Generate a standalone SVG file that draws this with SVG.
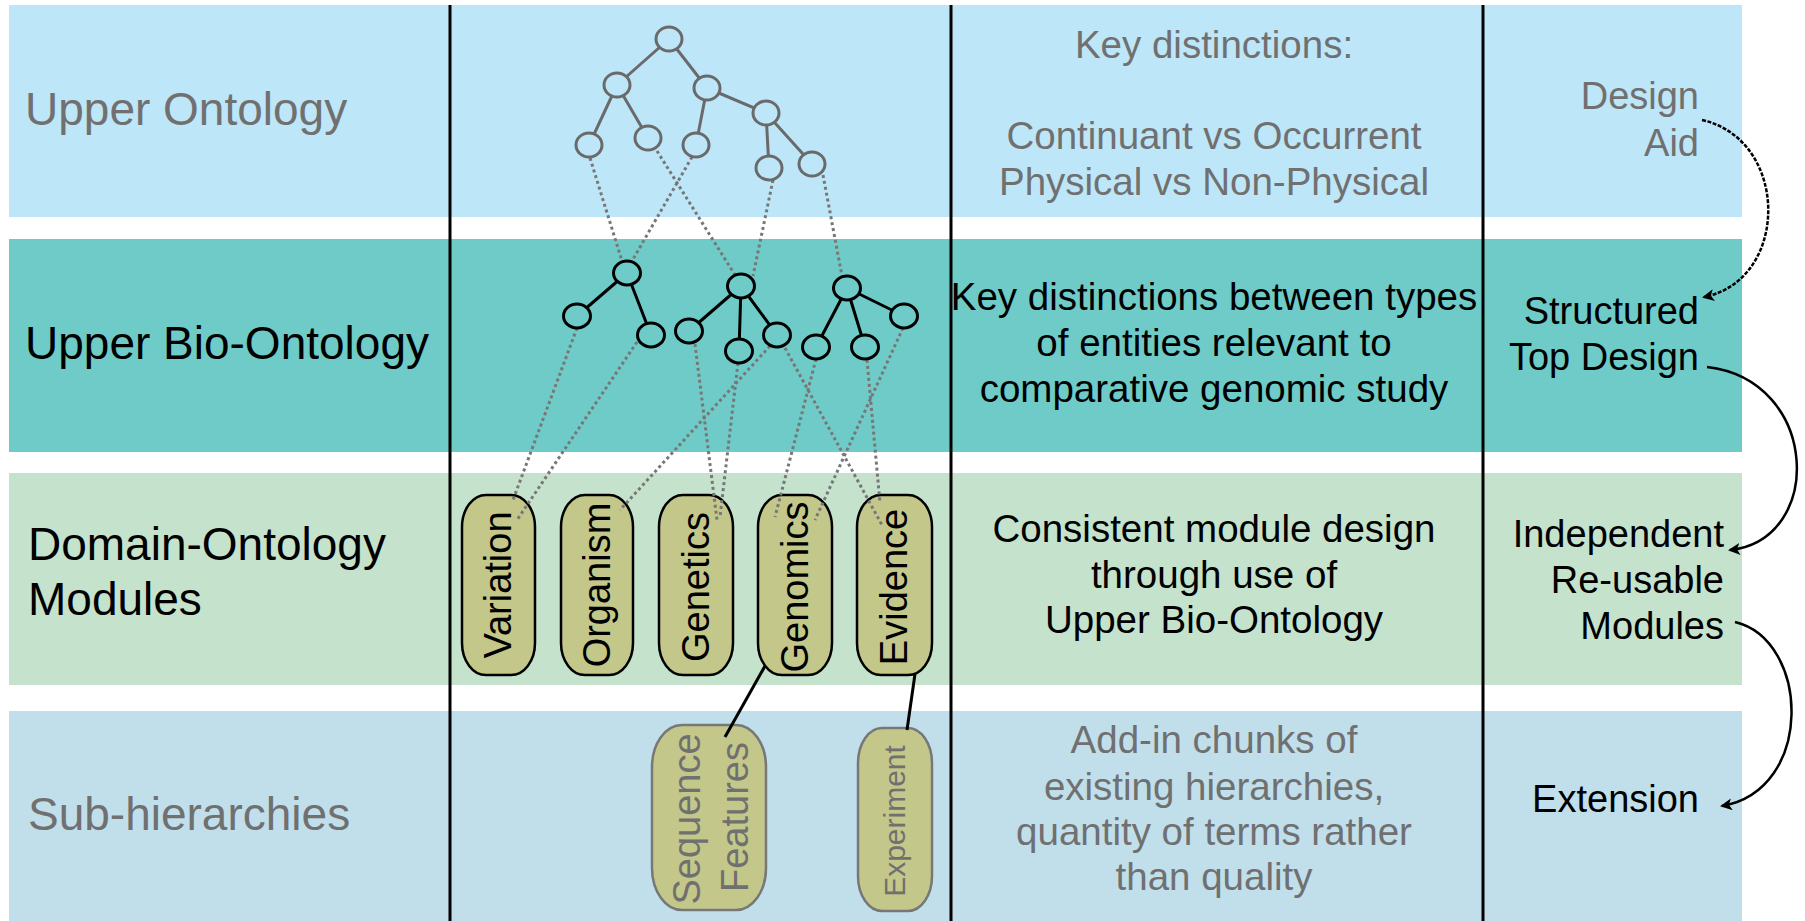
<svg xmlns="http://www.w3.org/2000/svg" width="1805" height="921" viewBox="0 0 1805 921">
<defs>
<style>
text{font-family:"Liberation Sans",Arial,sans-serif}
.lbl{font-size:46px}
.mid{font-size:38.5px;text-anchor:middle}
.rt{font-size:38px;text-anchor:end}
.gray{fill:#707070}
.blk{fill:#000}
.col{stroke:#000;stroke-width:3}
.uedge{stroke:#6a6a6a;stroke-width:3;fill:none}
.unode{stroke:#6a6a6a;stroke-width:3;fill:#bde6f8}
.bedge{stroke:#000;stroke-width:3;fill:none}
.bnode{stroke:#000;stroke-width:3;fill:#6ecbc8}
.dot{stroke:#777;stroke-width:3;stroke-dasharray:3 3;fill:none}
.mod{fill:#c3c789;stroke:#000;stroke-width:2.5}
.sub{fill:#c3c789;stroke:#777;stroke-width:2.5}
.mtxt{font-size:38px;text-anchor:middle;fill:#000}
.stxt{font-size:38px;text-anchor:middle;fill:#707070}
.link{stroke:#000;stroke-width:3;fill:none}
.arc{stroke:#000;stroke-width:2.5;fill:none}
</style>
<marker id="ah" viewBox="0 0 12 12" refX="10" refY="6" markerWidth="12" markerHeight="12" markerUnits="userSpaceOnUse" orient="auto">
<path d="M0,0 L12,6 L0,12 L3,6 z" fill="#000"/>
</marker>
</defs>
<rect width="1805" height="921" fill="#fff"/>
<g id="bands">
<rect x="9" y="5" width="1733" height="212" fill="#bde6f8"/>
<rect x="9" y="239" width="1733" height="213" fill="#6ecbc8"/>
<rect x="9" y="473" width="1733" height="212" fill="#c4e2cc"/>
<rect x="9" y="711" width="1733" height="210" fill="#c0dfeb"/>
</g>
<g id="columns">
<line class="col" x1="450" y1="5" x2="450" y2="921"/>
<line class="col" x1="951" y1="5" x2="951" y2="921"/>
<line class="col" x1="1483" y1="5" x2="1483" y2="921"/>
</g>
<g id="row-labels">
<text class="lbl gray" x="25" y="125">Upper Ontology</text>
<text class="lbl blk" x="25" y="359">Upper Bio-Ontology</text>
<text class="lbl blk" x="28" y="560">Domain-Ontology</text>
<text class="lbl blk" x="28" y="615">Modules</text>
<text class="lbl gray" x="28" y="830">Sub-hierarchies</text>
</g>
<g id="descriptions">
<text class="mid gray" x="1214" y="58">Key distinctions:</text>
<text class="mid gray" x="1214" y="149">Continuant vs Occurrent</text>
<text class="mid gray" x="1214" y="195">Physical vs Non-Physical</text>
<text class="mid blk" x="1214" y="310">Key distinctions between types</text>
<text class="mid blk" x="1214" y="356">of entities relevant to</text>
<text class="mid blk" x="1214" y="402">comparative genomic study</text>
<text class="mid blk" x="1214" y="542">Consistent module design</text>
<text class="mid blk" x="1214" y="588">through use of</text>
<text class="mid blk" x="1214" y="633">Upper Bio-Ontology</text>
<text class="mid gray" x="1214" y="753">Add-in chunks of</text>
<text class="mid gray" x="1214" y="800">existing hierarchies,</text>
<text class="mid gray" x="1214" y="845">quantity of terms rather</text>
<text class="mid gray" x="1214" y="890">than quality</text>
</g>
<g id="stage-design-aid">
<text class="rt gray" x="1699" y="109">Design</text>
<text class="rt gray" x="1699" y="156">Aid</text>
</g>
<g id="stage-structured">
<text class="rt blk" x="1699" y="324">Structured</text>
<text class="rt blk" x="1699" y="370">Top Design</text>
</g>
<g id="stage-independent">
<text class="rt blk" x="1724" y="547">Independent</text>
<text class="rt blk" x="1724" y="593">Re-usable</text>
<text class="rt blk" x="1724" y="639">Modules</text>
</g>
<g id="stage-extension">
<text class="rt blk" x="1699" y="812">Extension</text>
</g>
<g id="module-variation"><rect class="mod" x="462" y="495" width="73" height="180" rx="24" ry="32"/><text class="mtxt" transform="translate(511,585) rotate(-90)">Variation</text></g>
<g id="module-organism"><rect class="mod" x="561" y="495" width="72" height="180" rx="24" ry="32"/><text class="mtxt" transform="translate(610,585) rotate(-90)">Organism</text></g>
<g id="module-genetics"><rect class="mod" x="659" y="495" width="74" height="180" rx="24" ry="32"/><text class="mtxt" transform="translate(709,587) rotate(-90)">Genetics</text></g>
<g id="module-genomics"><rect class="mod" x="758" y="495" width="74" height="180" rx="24" ry="32"/><text class="mtxt" transform="translate(808,587) rotate(-90)">Genomics</text></g>
<g id="module-evidence"><rect class="mod" x="857" y="495" width="75" height="180" rx="24" ry="32"/><text class="mtxt" transform="translate(907,587) rotate(-90)">Evidence</text></g>
<g id="sub-sequence-features"><rect class="sub" x="652" y="725" width="114" height="185" rx="30" ry="42"/><text class="stxt" transform="translate(700,819) rotate(-90)">Sequence</text><text class="stxt" transform="translate(748,817) rotate(-90)">Features</text></g>
<g id="sub-experiment"><rect class="sub" x="858" y="728" width="74" height="183" rx="24" ry="35"/><text class="stxt" style="font-size:30px" transform="translate(905,821) rotate(-90)">Experiment</text></g>
<g id="connectors">
<path class="dot" d="M590,158 L622,261"/>
<path class="dot" d="M657,151 L735,275"/>
<path class="dot" d="M692,157 L632,261"/>
<path class="dot" d="M773,180 L753,276"/>
<path class="dot" d="M823,175 L842,276"/>
<path class="dot" d="M577,328 L513,500"/>
<path class="dot" d="M637,342 L517,520"/>
<path class="dot" d="M695,344 L717,520"/>
<path class="dot" d="M738,363 L720,517"/>
<path class="dot" d="M770,346 L620,510"/>
<path class="dot" d="M785,348 L882,525"/>
<path class="dot" d="M816,359 L775,517"/>
<path class="dot" d="M867,360 L880,503"/>
<path class="dot" d="M903,328 L815,520"/>
<path class="link" d="M765,666 L725,737"/>
<path class="link" d="M915,674 L907,730"/>
<path class="arc" stroke-dasharray="4 1.5" d="M1702,120 C1790,140 1790,280 1704,297" marker-end="url(#ah)"/>
<path class="arc" d="M1707,367 C1820,380 1825,540 1730,550" marker-end="url(#ah)"/>
<path class="arc" d="M1735,622 C1810,640 1815,790 1722,806" marker-end="url(#ah)"/>
</g>
<g id="upper-ontology-tree">
<path class="uedge" d="M669,39 L617,85 M669,39 L707,88 M617,85 L589,145 M617,85 L648,138 M707,88 L696,145 M707,88 L766,113 M766,113 L769,168 M766,113 L812,164"/>
<ellipse class="unode" cx="669" cy="39" rx="13" ry="12"/>
<ellipse class="unode" cx="617" cy="85" rx="13" ry="12"/>
<ellipse class="unode" cx="707" cy="88" rx="13" ry="12"/>
<ellipse class="unode" cx="766" cy="113" rx="13" ry="12"/>
<ellipse class="unode" cx="589" cy="145" rx="13" ry="12"/>
<ellipse class="unode" cx="648" cy="138" rx="13" ry="12"/>
<ellipse class="unode" cx="696" cy="145" rx="13" ry="12"/>
<ellipse class="unode" cx="769" cy="168" rx="13" ry="12"/>
<ellipse class="unode" cx="812" cy="164" rx="13" ry="12"/>
</g>
<g id="bio-tree-a">
<path class="bedge" d="M627,273 L577,316 M627,273 L651,335"/>
<ellipse class="bnode" cx="627" cy="273" rx="13.5" ry="12"/>
<ellipse class="bnode" cx="577" cy="316" rx="13.5" ry="12"/>
<ellipse class="bnode" cx="651" cy="335" rx="13.5" ry="12"/>
</g>
<g id="bio-tree-b">
<path class="bedge" d="M741,286 L689,331 M741,286 L739,351 M741,286 L777,335"/>
<ellipse class="bnode" cx="741" cy="286" rx="13.5" ry="12"/>
<ellipse class="bnode" cx="689" cy="331" rx="13.5" ry="12"/>
<ellipse class="bnode" cx="739" cy="351" rx="13.5" ry="12"/>
<ellipse class="bnode" cx="777" cy="335" rx="13.5" ry="12"/>
</g>
<g id="bio-tree-c">
<path class="bedge" d="M847,288 L816,347 M847,288 L865,347 M847,288 L904,316"/>
<ellipse class="bnode" cx="847" cy="288" rx="13.5" ry="12"/>
<ellipse class="bnode" cx="816" cy="347" rx="13.5" ry="12"/>
<ellipse class="bnode" cx="865" cy="347" rx="13.5" ry="12"/>
<ellipse class="bnode" cx="904" cy="316" rx="13.5" ry="12"/>
</g>
</svg>
